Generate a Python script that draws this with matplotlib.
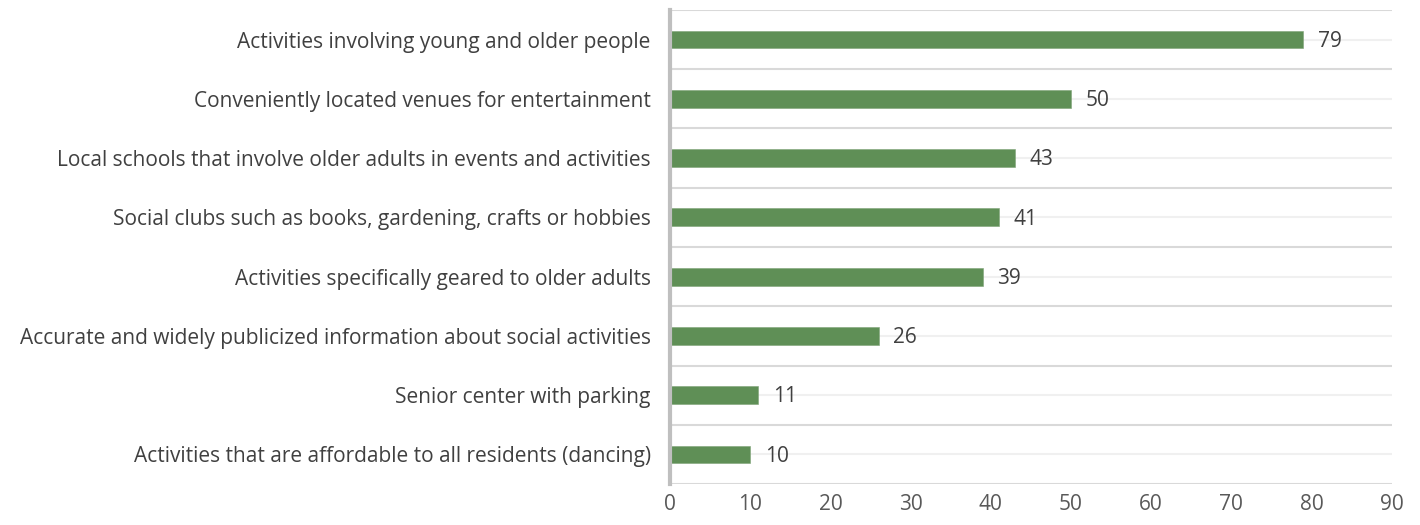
import matplotlib.pyplot as plt

plt.rcParams['font.family'] = ['Open Sans', 'DejaVu Sans']

# categories from top to bottom
categorias = [
    "Activities involving young and older people",
    "Conveniently located venues for entertainment",
    "Local schools that involve older adults in events and activities",
    "Social clubs such as books, gardening, crafts or hobbies",
    "Activities specifically geared to older adults",
    "Accurate and widely publicized information about social activities",
    "Senior center with parking",
    "Activities that are affordable to all residents (dancing)",
]
valores = [79, 50, 43, 41, 39, 26, 11, 10]
ticks_x = [0, 10, 20, 30, 40, 50, 60, 70, 80, 90]

fig = plt.figure(figsize=(14.2, 5.25), dpi=100)
ax = fig.add_axes([0.472, 0.078, 0.508, 0.903])

pos = list(range(len(categorias)))
ax.barh(pos, valores, height=0.3, color='#5f8f56', edgecolor='#7fa377', linewidth=0.4, zorder=3)

for p, v in zip(pos, valores):
    ax.text(v + 1.8, p + 0.03, str(v), va='center', ha='left', fontsize=15, color='#404040', zorder=4)

ax.set_ylim(len(categorias) - 0.5, -0.5)
ax.set_xlim(0, 90)
ax.set_yticks(pos)
ax.set_yticklabels(categorias, fontsize=15, color='#404040')
ax.set_xticks(ticks_x)
ax.set_xticklabels([str(t) for t in ticks_x], fontsize=15, color='#595959')

# linhas de grade: fortes entre categorias, claras no meio
ax.grid(False)
for y in [p - 0.5 for p in pos] + [len(pos) - 0.5]:
    ax.axhline(y, color='#d9d9d9', linewidth=1.5, zorder=1)
for p in pos:
    ax.axhline(p, color='#f0f0f0', linewidth=1.5, zorder=1)

ax.tick_params(axis='y', length=0, pad=14)
ax.tick_params(axis='x', length=0, pad=7)
for s in ['top', 'right', 'bottom']:
    ax.spines[s].set_visible(False)
ax.spines['left'].set_color('#bfbfbf')
ax.spines['left'].set_linewidth(3)
ax.spines['left'].set_zorder(5)

plt.savefig('out.png', dpi=100)
